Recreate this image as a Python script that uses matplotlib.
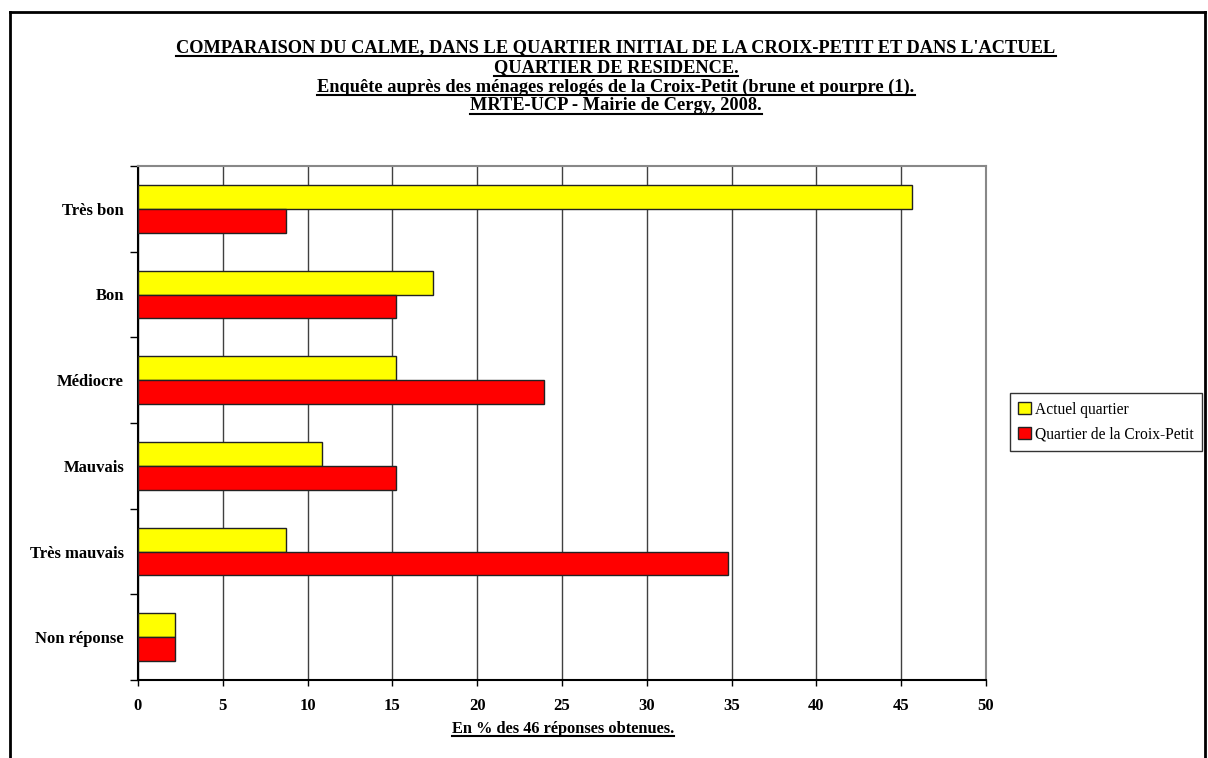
import matplotlib
matplotlib.use("Agg")
import matplotlib.pyplot as plt
from matplotlib.lines import Line2D
import numpy as np

categories = ["Très bon", "Bon", "Médiocre", "Mauvais", "Très mauvais", "Non réponse"]
actuel = [45.65, 17.39, 15.22, 10.87, 8.70, 2.17]
croix = [8.70, 15.22, 23.91, 15.22, 34.78, 2.17]
series_names = ["Actuel quartier", "Quartier de la Croix-Petit"]
xticks = [0, 5, 10, 15, 20, 25, 30, 35, 40, 45, 50]
title_lines = [
    "COMPARAISON DU CALME, DANS LE QUARTIER INITIAL DE LA CROIX-PETIT ET DANS L'ACTUEL",
    "QUARTIER DE RESIDENCE.",
    "Enquête auprès des ménages relogés de la Croix-Petit (brune et pourpre (1).",
    "MRTE-UCP - Mairie de Cergy, 2008.",
]
xlabel = "En % des 46 réponses obtenues."

W, H = 1208, 758
fig = plt.figure(figsize=(W / 100, H / 100), dpi=100)
plt.rcParams['font.family'] = ['Liberation Serif', 'DejaVu Serif']

def fx(px):
    return px / W

def fy(py):
    return 1 - py / H

ax = fig.add_axes([fx(138), fy(680), fx(986) - fx(138), fy(166) - fy(680)])

y = np.arange(len(categories))
bh = 0.28
ax.barh(y - bh / 2, actuel, height=bh, color="#FFFF00", edgecolor="#222222", linewidth=1.0, label=series_names[0], zorder=3)
ax.barh(y + bh / 2, croix, height=bh, color="#FF0000", edgecolor="#222222", linewidth=1.0, label=series_names[1], zorder=3)

ax.set_xlim(0, 50)
ax.set_ylim(len(categories) - 0.5, -0.5)
ax.set_xticks(xticks)
ax.set_xticklabels([str(v) for v in xticks], fontsize=12, fontweight="bold")
ax.tick_params(axis="x", direction="out", length=4, width=1, pad=9)

ax.set_yticks(np.arange(-0.5, len(categories), 1.0))
ax.set_yticklabels([])
ax.set_yticks(y, minor=True)
ax.set_yticklabels(categories, minor=True, fontsize=12, fontweight="bold")
ax.tick_params(axis="y", which="major", direction="out", length=6, width=1)
ax.tick_params(axis="y", which="minor", length=0, pad=10)

ax.grid(axis="x", color="#404040", linewidth=1.0, zorder=0)
ax.set_axisbelow(True)
for s in ["top", "right"]:
    ax.spines[s].set_color("#888888")
    ax.spines[s].set_linewidth(1.5)
for s in ["left", "bottom"]:
    ax.spines[s].set_color("black")
    ax.spines[s].set_linewidth(1.5)

leg = fig.legend(loc="center", bbox_to_anchor=(fx(1106), fy(422)), fontsize=11.2,
                 frameon=True, fancybox=False, edgecolor="black", handlelength=0.8,
                 handleheight=0.8, handletextpad=0.3, borderpad=0.55, labelspacing=0.55)
leg.get_frame().set_linewidth(1.0)

texts = []
title_y = [48, 68, 87, 106]
for t, ty in zip(title_lines, title_y):
    texts.append(fig.text(fx(616), fy(ty), t, ha="center", va="center", fontsize=13.2, fontweight="bold"))
texts.append(fig.text(fx(563), fy(729), xlabel, ha="center", va="center", fontsize=11.8, fontweight="bold"))

# outer chart border
fig.add_artist(Line2D([fx(10), fx(10)], [fy(12), 0], color="black", linewidth=2, transform=fig.transFigure))
fig.add_artist(Line2D([fx(10), fx(1205)], [fy(12), fy(12)], color="black", linewidth=2, transform=fig.transFigure))
fig.add_artist(Line2D([fx(1205), fx(1205)], [fy(12), 0], color="black", linewidth=2, transform=fig.transFigure))

fig.canvas.draw()
r = fig.canvas.get_renderer()
for t in texts:
    bb = t.get_window_extent(renderer=r)
    yy = bb.y0 + 1
    fig.add_artist(Line2D([bb.x0 / W, bb.x1 / W], [yy / H, yy / H], color="black", linewidth=1.5, transform=fig.transFigure))

fig.savefig("out.png", dpi=100)
